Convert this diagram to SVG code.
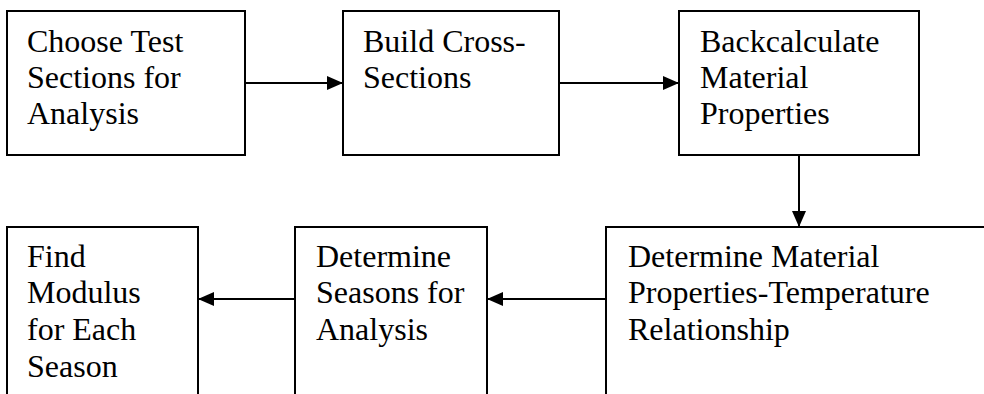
<svg xmlns="http://www.w3.org/2000/svg" width="984" height="394" viewBox="0 0 984 394">
  <style>
    .box { fill: #ffffff; stroke: #000000; stroke-width: 2; }
    .lbl { font-family: "Liberation Serif", "Times New Roman", serif; font-size: 32px; fill: #000000; }
    .edge { stroke: #000000; stroke-width: 2; fill: none; marker-end: url(#head); }
  </style>
  <defs>
    <marker id="head" viewBox="0 0 16 14" refX="16" refY="7" markerWidth="16" markerHeight="14" markerUnits="userSpaceOnUse" orient="auto">
      <path d="M0,0 L16,7 L0,14 Z" fill="#000000"/>
    </marker>
  </defs>
  <rect width="984" height="394" fill="#ffffff"/>

  <!-- top row -->
  <g id="choose-sections">
    <rect class="box" x="7" y="11" width="238" height="144"/>
    <text class="lbl"><tspan x="27" y="52">Choose Test</tspan><tspan x="27" y="87.8">Sections for</tspan><tspan x="27" y="123.6">Analysis</tspan></text>
  </g>

  <g id="build-cross-sections">
    <rect class="box" x="343" y="11" width="216" height="144"/>
    <text class="lbl"><tspan x="363" y="52">Build Cross-</tspan><tspan x="363" y="87.8">Sections</tspan></text>
  </g>

  <g id="backcalculate">
    <rect class="box" x="679" y="11" width="240" height="144"/>
    <text class="lbl"><tspan x="700" y="52">Backcalculate</tspan><tspan x="700" y="87.8">Material</tspan><tspan x="700" y="123.6">Properties</tspan></text>
  </g>

  <!-- bottom row (boxes run past the lower edge) -->
  <g id="find-modulus">
    <rect class="box" x="7" y="227" width="191" height="190"/>
    <text class="lbl"><tspan x="27" y="266.5">Find</tspan><tspan x="27" y="303.3">Modulus</tspan><tspan x="27" y="340.1">for Each</tspan><tspan x="27" y="376.9">Season</tspan></text>
  </g>

  <g id="determine-seasons">
    <rect class="box" x="295" y="227" width="192" height="190"/>
    <text class="lbl"><tspan x="316" y="266.5">Determine</tspan><tspan x="316" y="303.3">Seasons for</tspan><tspan x="316" y="340.1">Analysis</tspan></text>
  </g>

  <g id="material-temperature">
    <rect class="box" x="606" y="227" width="400" height="190"/>
    <text class="lbl"><tspan x="628" y="266.5">Determine Material</tspan><tspan x="628" y="303.3">Properties-Temperature</tspan><tspan x="628" y="340.1">Relationship</tspan></text>
  </g>

  <g id="connectors">
    <line class="edge" x1="245" y1="83" x2="343" y2="83"/>
    <line class="edge" x1="559" y1="83" x2="679" y2="83"/>
    <line class="edge" x1="799" y1="155" x2="799" y2="227"/>
    <line class="edge" x1="606" y1="299" x2="487" y2="299"/>
    <line class="edge" x1="295" y1="299" x2="198" y2="299"/>
  </g>
</svg>
